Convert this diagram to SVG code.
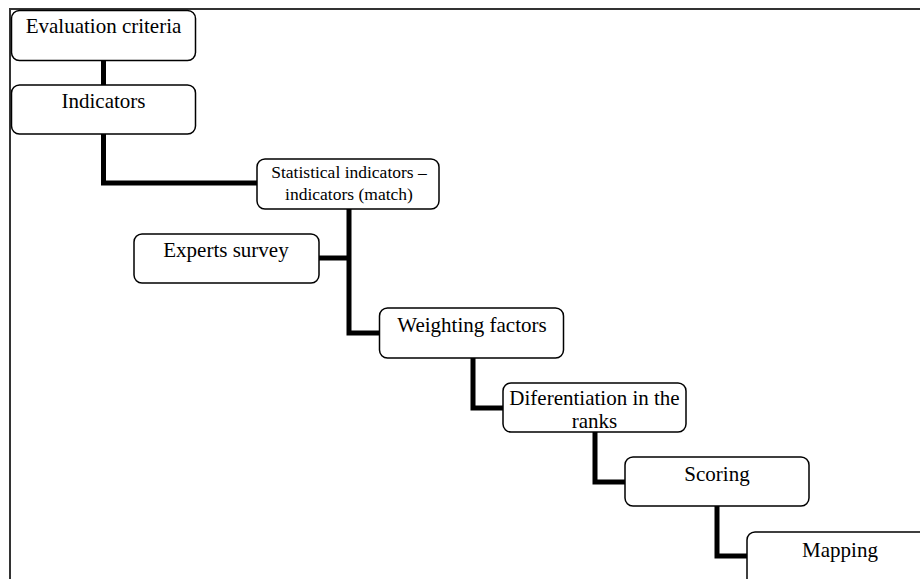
<svg xmlns="http://www.w3.org/2000/svg" width="920" height="579" viewBox="0 0 920 579">
<style>
.box{fill:#fff;stroke:#000;stroke-width:1.5}
text{font-family:'Liberation Serif','Times New Roman',Times,serif;font-size:21px;fill:#000;text-anchor:middle}
text.s{font-size:17.5px}
.c{fill:none;stroke:#000;stroke-width:5;stroke-linejoin:miter}
</style>
<rect x="0" y="0" width="920" height="579" fill="#fff"/>
<rect x="10" y="9" width="930" height="600" fill="none" stroke="#333" stroke-width="2"/>
<g id="connectors">
<path class="c" d="M103.5 61V85"/>
<path class="c" d="M103.5 134V183H257"/>
<path class="c" d="M349 209V333H380"/>
<path class="c" d="M319 258H349"/>
<path class="c" d="M473 358V408H503"/>
<path class="c" d="M595 432V482H625"/>
<path class="c" d="M717 506V556H747"/>
</g>
<g id="evaluation-criteria"><rect class="box" x="11.5" y="10.5" width="184" height="50" rx="8"/><text x="103.5" y="33" font-family="Liberation Serif, serif">Evaluation criteria</text></g>
<g id="indicators"><rect class="box" x="11.5" y="85" width="184" height="49" rx="8"/><text x="103.5" y="108" font-family="Liberation Serif, serif">Indicators</text></g>
<g id="statistical-indicators"><rect class="box" x="257" y="159" width="182" height="50" rx="8"/><text class="s" x="349" y="178" font-family="Liberation Serif, serif">Statistical indicators –</text><text class="s" x="349" y="200" font-family="Liberation Serif, serif">indicators (match)</text></g>
<g id="experts-survey"><rect class="box" x="134" y="234" width="185" height="49" rx="8"/><text x="226" y="257" font-family="Liberation Serif, serif">Experts survey</text></g>
<g id="weighting-factors"><rect class="box" x="379.5" y="308" width="184" height="50" rx="8"/><text x="472" y="332" font-family="Liberation Serif, serif">Weighting factors</text></g>
<g id="diferentiation"><rect class="box" x="503" y="383" width="183" height="49" rx="8"/><text x="594.5" y="405" font-family="Liberation Serif, serif">Diferentiation in the</text><text x="594.5" y="428" font-family="Liberation Serif, serif">ranks</text></g>
<g id="scoring"><rect class="box" x="625" y="457" width="184" height="49" rx="8"/><text x="717" y="481" font-family="Liberation Serif, serif">Scoring</text></g>
<g id="mapping"><rect class="box" x="747" y="532" width="186" height="60" rx="8"/><text x="840" y="557" font-family="Liberation Serif, serif">Mapping</text></g>
</svg>
